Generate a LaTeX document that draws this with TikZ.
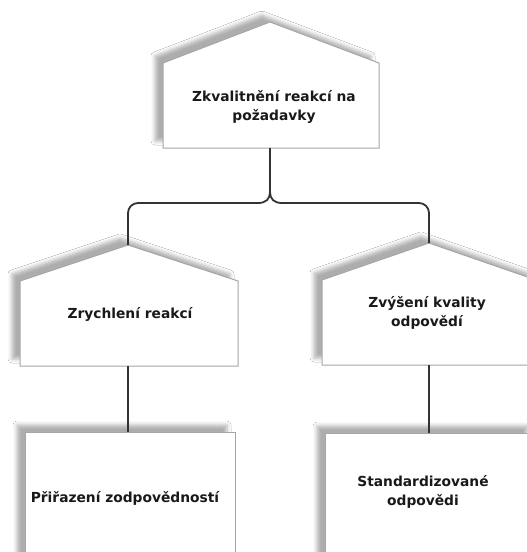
\documentclass[tikz,border=0pt]{standalone}
\usepackage{fontspec}
\setmainfont{DejaVu Sans}
\usetikzlibrary{shadows.blur}

\begin{document}
\begin{tikzpicture}[x=1pt,y=-1pt,
  boxshape/.style={fill=white, draw=black!35, line width=1pt,
    blur shadow={shadow xshift=-8pt, shadow yshift=7pt,
                 shadow blur radius=4pt, shadow opacity=32}},
  boxlabel/.style={align=center, font=\bfseries\fontsize{13.8}{19}\selectfont,
                   text=black!90, inner sep=0pt},
  link/.style={draw=black!80, line width=1.8pt}]

\useasboundingbox (0,0) rectangle (527,552);
\clip (0,0) rectangle (527,552);
\fill[white] (0,0) rectangle (527,552);

% top goal
\path[boxshape] (163,63) -- (270,22) -- (379,63) -- (379,148) -- (163,148) -- cycle;
\node[boxlabel] (goal) at (274,107) {Zkvalitnění reakcí na\\požadavky};
\coordinate (goalBase) at (270,148);

% second level
\path[boxshape] (20,281) -- (128,245) -- (238,281) -- (238,366) -- (20,366) -- cycle;
\node[boxlabel] (speed) at (130,314) {Zrychlení reakcí};
\coordinate (speedRoof) at (128,245);
\coordinate (speedBase) at (128,366);

\path[boxshape] (322,280) -- (429,243) -- (536,280) -- (536,365) -- (322,365) -- cycle;
\node[boxlabel] (quality) at (427,313) {Zvýšení kvality\\odpovědí};
\coordinate (qualityRoof) at (429,243);
\coordinate (qualityBase) at (429,365);

% third level
\path[boxshape] (25,432) rectangle (235,600);
\node[boxlabel] (assign) at (125,498) {Přiřazení zodpovědností};
\coordinate (assignTop) at (128,432);

\path[boxshape] (325,433) rectangle (535,600);
\node[boxlabel] (standard) at (423,492) {Standardizované\\odpovědi};
\coordinate (standardTop) at (429,433);

% connectors
\coordinate (split) at (270,192);
\draw[link] (goalBase) -- (split);
\draw[link] (split) .. controls (270,199) and (266,203) .. (258,203)
  [rounded corners=10pt] -- (128,203) -- (speedRoof);
\draw[link] (split) .. controls (270,199) and (274,203) .. (282,203)
  [rounded corners=10pt] -- (429,203) -- (qualityRoof);
\draw[link] (speedBase) -- (assignTop);
\draw[link] (qualityBase) -- (standardTop);
\end{tikzpicture}
\end{document}
